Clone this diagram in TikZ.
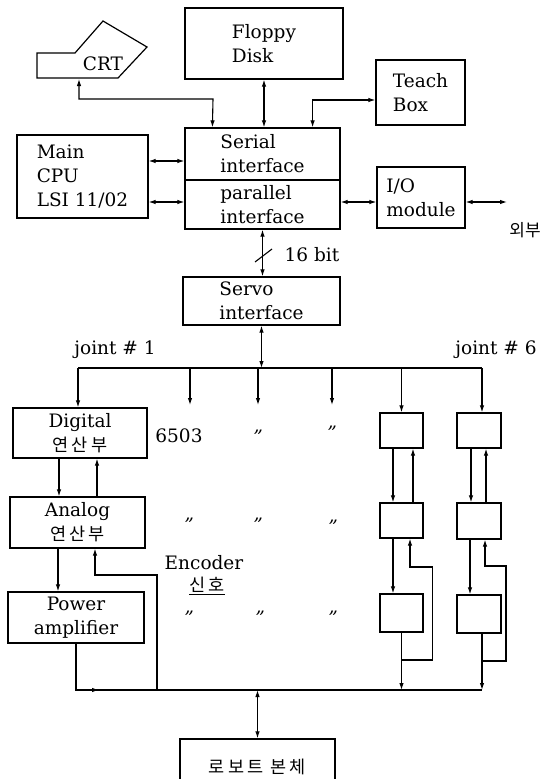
\documentclass[tikz,border=0pt]{standalone}
\usepackage{fontspec}
\setmainfont{DejaVu Serif}
\newfontfamily\kr{Noto Sans CJK KR}
\newfontfamily\krw{Noto Sans CJK KR}[LetterSpace=18]
\usetikzlibrary{arrows.meta}
\usetikzlibrary{calc}

\newcommand{\hgl}[1]{{\kr\fontsize{17}{20}\selectfont #1}}
\newcommand{\hgw}[1]{{\krw\fontsize{17.5}{20}\selectfont #1}}

\tikzset{
  blk/.style={draw, line width=1.2pt, inner sep=0pt, align=left},
  tag/.style={inner sep=0pt},
  wire/.style={line width=1.1pt},
  arr/.style={wire, -{Latex[length=7pt,width=4.5pt]}},
  darr/.style={wire, {Latex[length=7pt,width=4.5pt]}-{Latex[length=7pt,width=4.5pt]}},
}

\begin{document}
\begin{tikzpicture}[x=1pt, y=-1pt, font=\fontsize{18.5}{24}\selectfont]
  \useasboundingbox (0,0) rectangle (555,779);
  \clip (0,0) rectangle (555,779);

  % upper part
  \draw[line width=1.2pt] (37,53) -- (75,53) -- (103,21) -- (147,47) -- (118,78) -- (37,78) -- cycle;
  \node[tag] (crt) at (103,64) {CRT};
  \coordinate (crtb) at (79,79);

  \node[blk, minimum width=158pt, minimum height=71pt] (floppy) at (264,43.5) {Floppy\\Disk};
  \node[blk, minimum width=89pt, minimum height=65pt] (teach) at (420.5,92.5) {Teach\\Box};
  \node[blk, minimum width=131pt, minimum height=83pt] (cpu) at (82.5,176.5) {Main\\CPU\\LSI 11/02};
  \node[blk, minimum width=155pt, minimum height=52pt] (serial) at (262.5,154) {Serial\\interface};
  \node[blk, minimum width=155pt, minimum height=49pt] (parallel) at (262.5,204.5) {parallel\\interface};
  \node[blk, minimum width=88pt, minimum height=61pt] (io) at (421,197.5) {I/O\\module};
  \coordinate (ext) at (507,202);
  \node[tag] (outside) at (525,230) {\hgl{외부}};

  \draw[darr] (crtb) |- (213,99) -- ([xshift=28pt]serial.north west);
  \draw[darr] (floppy.south) -- (floppy.south |- serial.north);
  \draw[darr] ([xshift=-28pt]serial.north east) |- ([yshift=-7.5pt]teach.west);
  \draw[darr] ([yshift=15.5pt]cpu.east) -- ([yshift=-7pt]serial.west);
  \draw[darr] ([yshift=-25.5pt]cpu.east) -- ([yshift=2.5pt]parallel.west);
  \draw[darr] ([yshift=2.5pt]parallel.east) -- ([yshift=-4.5pt]io.west);
  \draw[darr] ([yshift=-4.5pt]io.east) -- (ext);

  % servo
  \node[blk, minimum width=157pt, minimum height=48pt] (servo) at (261.5,301) {Servo\\interface};
  \draw[darr] (parallel.south) -- (parallel.south |- servo.north);
  \draw[wire] (255,262) -- (272,249);
  \node[tag] (bits) at (312,255) {16 bit};

  % joints
  \coordinate (j1) at (78,368);
  \coordinate (j6) at (482,368);
  \coordinate (d2) at (190,405);
  \coordinate (d3) at (258,405);
  \coordinate (d4) at (332,405);
  \node[tag] (joint1) at (115,350) {joint \# 1};
  \node[tag] (joint6) at (496,350) {joint \# 6};
  \draw[darr] (servo.south) -- (servo.south |- j1);
  \draw[wire] (j1) -- (j6);

  \node[blk, align=center, minimum width=134pt, minimum height=50pt] (dig) at (80,433) {Digital\\\hgw{연산부}};
  \node[blk, align=center, minimum width=135pt, minimum height=51pt] (ana) at (77.5,522.5) {Analog\\\hgw{연산부}};
  \node[blk, align=center, minimum width=136pt, minimum height=51pt] (pwr) at (76,617.5) {Power\\amplifier};

  \node[blk, minimum width=43pt, minimum height=35pt] (a1) at (401.5,430.5) {};
  \node[blk, minimum width=43pt, minimum height=35pt] (a2) at (401.5,520.5) {};
  \node[blk, minimum width=43pt, minimum height=38pt] (a3) at (401.5,613) {};
  \node[blk, minimum width=44pt, minimum height=35pt] (b1) at (479,430.5) {};
  \node[blk, minimum width=44pt, minimum height=36pt] (b2) at (479,521) {};
  \node[blk, minimum width=44pt, minimum height=38pt] (b3) at (479,614) {};

  \draw[arr] (j1) -- (j1 |- dig.north);
  \foreach \n in {d2,d3,d4}
    \draw[arr] (\n |- j1) -- (\n);
  \draw[arr] (a1.north |- j1) -- (a1.north);
  \draw[arr] (j6) -- (j6 |- b1.north);

  \node[tag] (cpu6503) at (179,436) {6503};
  \foreach \x/\y [count=\i] in {258/437, 332/433, 189/525, 258/525, 333/527, 189/618, 260/618, 333/618}
    \node[tag] (dt\i) at (\x,\y) {\textit{''}};
  \node[tag] (enc) at (204,563) {Encoder};
  \node[tag] (sig) at (207,586) {\hgw{\underline{신호}}};

  % left column
  \draw[arr] ([xshift=-21pt]dig.south) -- ([xshift=-21pt]dig.south |- ana.north);
  \draw[arr] ([xshift=17pt]dig.south |- ana.north) -- ([xshift=17pt]dig.south);
  \draw[arr] ([xshift=-19.5pt]ana.south) -- ([xshift=-19.5pt]ana.south |- pwr.north);

  % right columns
  \draw[arr] ([xshift=-8.5pt]a1.south) -- ([xshift=-8.5pt]a1.south |- a2.north);
  \draw[arr] ([xshift=11.5pt]a1.south |- a2.north) -- ([xshift=11.5pt]a1.south);
  \draw[arr] ([xshift=-8.5pt]a2.south) -- ([xshift=-8.5pt]a2.south |- a3.north);
  \draw[arr] ([xshift=-8pt]b1.south) -- ([xshift=-8pt]b1.south |- b2.north);
  \draw[arr] ([xshift=7pt]b1.south |- b2.north) -- ([xshift=7pt]b1.south);
  \draw[arr] ([xshift=-9pt]b2.south) -- ([xshift=-9pt]b2.south |- b3.north);

  % output bus and feedback
  \coordinate (br) at (482,690);
  \coordinate (fbl) at (157,690);
  \coordinate (fa) at (401.5,660);
  \coordinate (fb) at (482,661);
  \draw[arr] (pwr.south) |- (99,690);
  \draw[wire] (92,690) -- (br);
  \draw[arr] (fbl) -- ++(0,-115) -| ([xshift=17.5pt]ana.south);
  \draw[arr] (a3.south) -- (a3.south |- br);
  \draw[arr] (b3.south -| br) -- (br);
  \draw[arr] (fa) -- ++(31,0) -- ++(0,-93) -| ([xshift=8.5pt]a2.south);
  \draw[arr] (fb) -- ++(24,0) -- ++(0,-95) -| ([xshift=6pt]b2.south);

  \node[blk, align=center, minimum width=155pt, minimum height=56pt] (robot) at (257.5,767) {\hgw{로보트 본체}};
  \draw[darr] (robot.north) -- (robot.north |- br);
\end{tikzpicture}
\end{document}
